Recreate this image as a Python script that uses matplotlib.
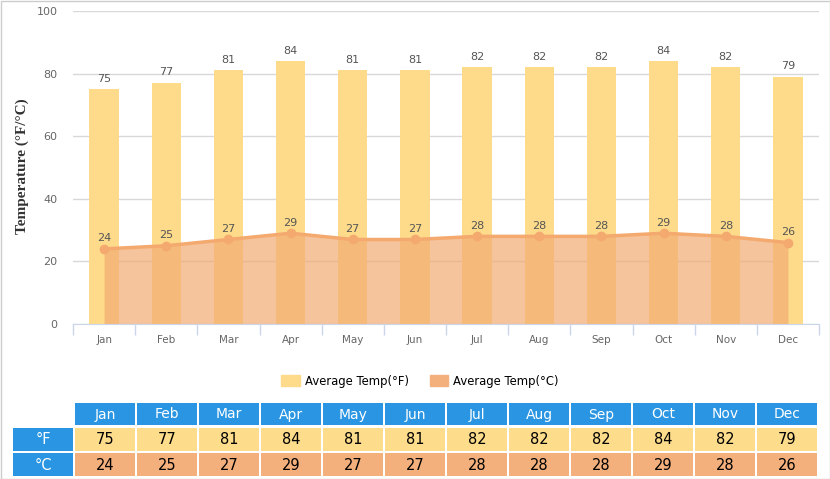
import numpy as np
import matplotlib.pyplot as plt
from matplotlib.patches import Rectangle, Patch

months = ["Jan", "Feb", "Mar", "Apr", "May", "Jun", "Jul", "Aug", "Sep", "Oct", "Nov", "Dec"]
temp_f = [75, 77, 81, 84, 81, 81, 82, 82, 82, 84, 82, 79]
temp_c = [24, 25, 27, 29, 27, 27, 28, 28, 28, 29, 28, 26]
yticks = [0, 20, 40, 60, 80, 100]

bar_col = "#FDDB8A"
area_col = "#F2AB72"
line_col = "#F4A96F"
head_col = "#2A96E3"
row_f_col = "#FDDC8C"
row_c_col = "#F3B07C"

W, H = 830, 479
fig = plt.figure(figsize=(W / 100, H / 100), dpi=100)

# main chart
ax = fig.add_axes([73 / W, 1 - 324 / H, (819 - 73) / W, (324 - 11) / H])
x = np.arange(len(months))

ax.bar(x, temp_f, width=0.47, color=bar_col, zorder=2)
ax.fill_between(x, 0, temp_c, color=area_col, alpha=0.7, lw=0, zorder=3)
ax.plot(x, temp_c, color=line_col, lw=2.5, zorder=4)
ax.plot(x, temp_c, "o", color=line_col, ms=6, zorder=5)

for i in range(len(months)):
    ax.annotate(str(temp_f[i]), (x[i], temp_f[i]), xytext=(0, 4), textcoords="offset points",
                ha="center", va="bottom", fontsize=8, color="#555555", zorder=6)
    ax.annotate(str(temp_c[i]), (x[i], temp_c[i]), xytext=(0, 4), textcoords="offset points",
                ha="center", va="bottom", fontsize=8, color="#555555", zorder=6)

ax.set_xlim(-0.5, len(months) - 0.5)
ax.set_ylim(0, 100)
ax.set_yticks(yticks)
ax.set_yticklabels([str(v) for v in yticks], fontsize=8, color="#666666")
ax.set_xticks(x)
ax.set_xticklabels(months, fontsize=7.5, color="#666666")
ax.tick_params(axis="x", length=0, pad=8)
ax.set_xticks(np.arange(-0.5, len(months)), minor=True)
ax.tick_params(axis="x", which="minor", length=8, color="#ccd6eb", width=1)
ax.tick_params(axis="y", length=0, pad=11)
ax.grid(axis="y", color="#d8d8d8", lw=1, zorder=0)
ax.set_axisbelow(True)
for s in ["top", "right", "left"]:
    ax.spines[s].set_visible(False)
ax.spines["bottom"].set_color("#ccd6eb")
ax.spines["bottom"].set_zorder(7)

fig.text(22 / W, 1 - 166 / H, "Temperature (°F/°C)", rotation=90, ha="center", va="center",
         fontsize=11, family="Liberation Serif", fontweight="bold", color="#333333")

# legend
handles = [Patch(color=bar_col, label="Average Temp(°F)"),
           Patch(color=row_c_col, label="Average Temp(°C)")]
fig.legend(handles=handles, loc="center", bbox_to_anchor=(420 / W, 1 - 381 / H), ncol=2,
           frameon=False, fontsize=8.4, handlelength=1.6, handleheight=1.1,
           handletextpad=0.4, columnspacing=1.8)

# table below the chart
tab = fig.add_axes([0, 0, 1, 1], zorder=-1)
tab.set_xlim(0, W)
tab.set_ylim(H, 0)
tab.axis("off")

def cell(x0, y0, w, h, color, text, tcol, size):
    tab.add_patch(Rectangle((x0, y0), w, h, color=color, lw=0))
    tab.text(x0 + w / 2, y0 + h / 2 + 0.5, text, ha="center", va="center", color=tcol, fontsize=size)

rows = [(403, 22), (428, 23), (453, 23)]
cell(13, rows[1][0], 60, rows[1][1], head_col, "°F", "white", 10.5)
cell(13, rows[2][0], 60, rows[2][1], head_col, "°C", "white", 10.5)
for i, m in enumerate(months):
    cx = 75 + 62 * i
    cell(cx, rows[0][0], 60, rows[0][1], head_col, m, "white", 10)
    cell(cx, rows[1][0], 60, rows[1][1], row_f_col, str(temp_f[i]), "black", 10.5)
    cell(cx, rows[2][0], 60, rows[2][1], row_c_col, str(temp_c[i]), "black", 10.5)

# outer border
tab.add_patch(Rectangle((0.5, 0.5), W - 1, H - 1, fill=False, ec="#cccccc", lw=1))

fig.savefig("out.png", dpi=100)
